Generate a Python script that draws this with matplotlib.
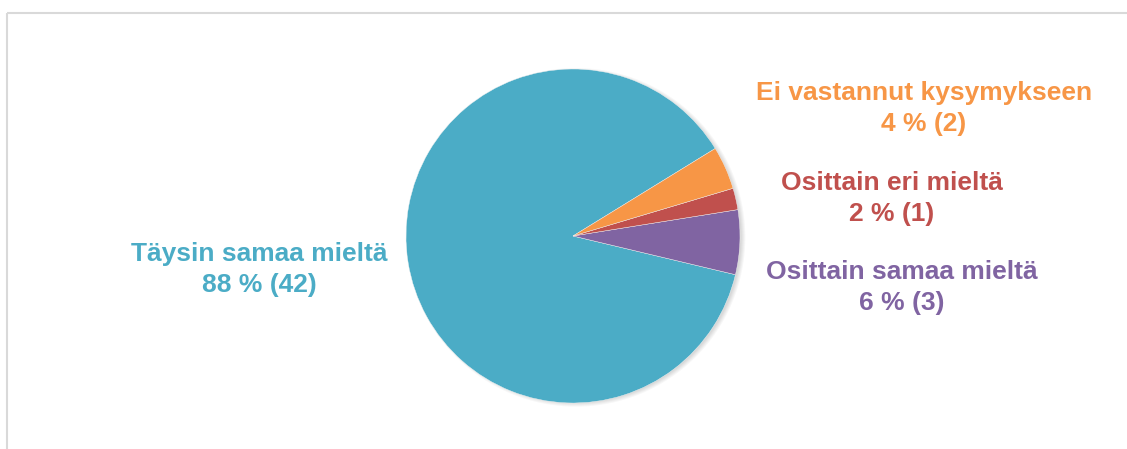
import numpy as np
import matplotlib.pyplot as plt
from matplotlib.patches import Circle, Rectangle

# Vastausten jakauma
labels = ["Täysin samaa mieltä", "Osittain samaa mieltä", "Osittain eri mieltä", "Ei vastannut kysymykseen"]
counts = [42, 3, 1, 2]
percents = [88, 6, 2, 4]
colors = ["#4BACC6", "#8064A2", "#C0504D", "#F79646"]

# selitteiden paikat (piirakan säteen yksiköissä)
label_pos = [(-1.88, -0.20), (1.97, -0.31), (1.91, 0.225), (2.10, 0.765)]

plt.rcParams['font.family'] = ['Liberation Sans', 'DejaVu Sans']

W, H = 1127, 449
fig = plt.figure(figsize=(W / 100, H / 100), dpi=100)

# kehys
frame = fig.add_axes([0, 0, 1, 1])
frame.set_xlim(0, W)
frame.set_ylim(H, 0)
frame.axis('off')
frame.add_patch(Rectangle((6.5, 12.5), W + 20, H + 20, fill=False,
                          edgecolor="#D9D9D9", linewidth=1.5))

# piirakka: keskipiste (573, 236), säde 167 px
cx, cy, r = 573, 236, 167
ax = fig.add_axes([(cx - r) / W, (H - cy - r) / H, 2 * r / W, 2 * r / H])
ax.set_xlim(-1, 1)
ax.set_ylim(-1, 1)
ax.set_aspect('equal')
ax.axis('off')

# pehmeä varjo oikealle alas
for i in range(5):
    ax.add_patch(Circle((0.018, -0.008), 0.99 + 0.006 * i, color="#000000",
                        alpha=0.03, linewidth=0, zorder=0, clip_on=False))

ax.pie(counts, colors=colors, startangle=31.6, counterclock=True, radius=1.0,
       wedgeprops=dict(linewidth=0.3, edgecolor="#F2F2F2"))
ax.set_xlim(-1, 1)
ax.set_ylim(-1, 1)

for lab, p, n, c, (x, y) in zip(labels, percents, counts, colors, label_pos):
    ax.text(x, y, f"{lab}\n{p} % ({n})", color=c, fontsize=19, fontweight='bold',
            ha='center', va='center', multialignment='center', linespacing=1.36,
            clip_on=False)

fig.savefig("out.png", dpi=100)
